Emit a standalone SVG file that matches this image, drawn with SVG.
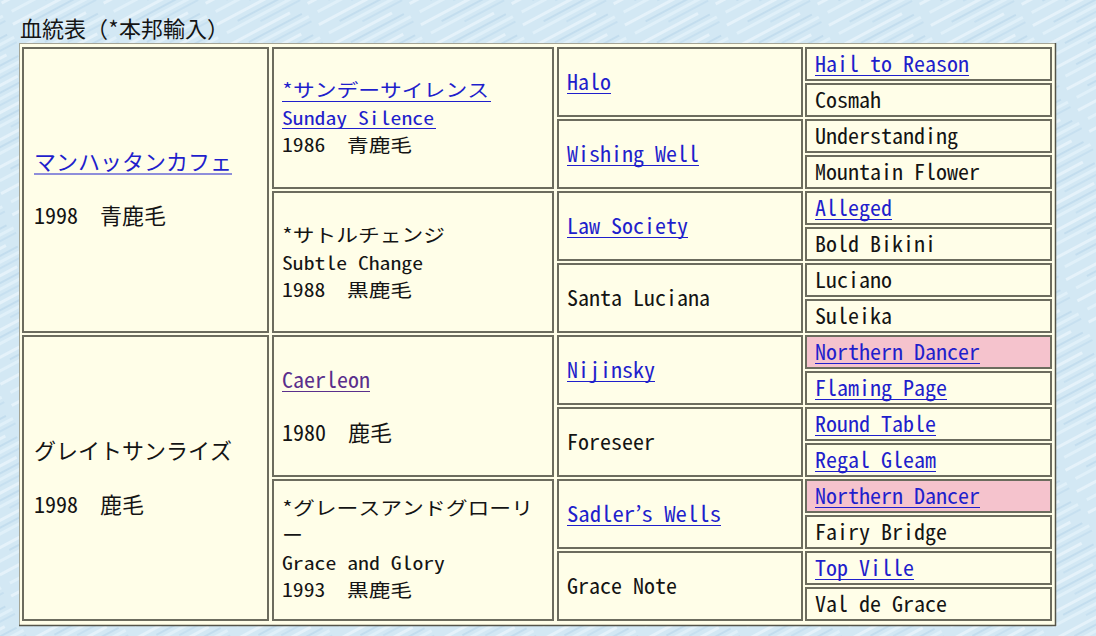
<svg xmlns="http://www.w3.org/2000/svg" width="1096" height="636" viewBox="0 0 1096 636">
<defs>
<pattern id="bgp" width="90" height="24" patternUnits="userSpaceOnUse" patternTransform="rotate(-28)">
<rect width="90" height="24" fill="#d3e8f4"/>
<rect x="0" y="2" width="70" height="3" fill="#eaf5fb" opacity="0.8"/>
<rect x="20" y="9" width="60" height="2" fill="#bcd9ec" opacity="0.7"/>
<rect x="5" y="14" width="80" height="3" fill="#e4f2fa" opacity="0.8"/>
<rect x="40" y="20" width="45" height="2" fill="#c2ddee" opacity="0.7"/>
</pattern>
<style>
.cell{fill:#fffee8;stroke:#6c6c5e;stroke-width:2}
.pink{fill:#f5c3cd}
.cj{font-family:"Noto Sans Mono CJK JP","Noto Sans CJK JP",sans-serif;font-size:22px}
.la{font-family:"Noto Sans Mono CJK JP","DejaVu Sans Mono",monospace;font-size:22px}
.sm{font-family:"Noto Sans Mono CJK JP","Noto Sans CJK JP",sans-serif;font-size:18.5px}
.bk{fill:#141414}
.lk{fill:#1f1fcc}
.vs{fill:#5a2f8c}
.ul{stroke:#1f1fcc;stroke-width:1.2}
.uv{stroke:#5a2f8c;stroke-width:1.2}
</style>
</defs>
<rect width="1096" height="636" fill="url(#bgp)"/>
<g id="title">
<text class="cj bk" x="20" y="37">血統表（*本邦輸入）</text>
</g>
<g id="table">
<rect x="19.5" y="43.5" width="1036" height="582" fill="#fffee8" stroke="#a5a596" stroke-width="1"/>
<line x1="1055.5" y1="43" x2="1055.5" y2="626" stroke="#55554a" stroke-width="1.5"/>
<line x1="19" y1="625.5" x2="1056" y2="625.5" stroke="#55554a" stroke-width="1.5"/>
</g>
<g id="connectors"/>
<!-- Column 1 -->
<g id="n-manhattan-cafe">
<rect class="cell" x="23" y="48" width="245" height="284"/>
<text class="cj lk" x="34" y="170">マンハッタンカフェ</text>
<line class="ul" x1="34" y1="174" x2="232" y2="174"/>
<text class="cj bk" x="34" y="224">1998　青鹿毛</text>
</g>
<g id="n-great-sunrise">
<rect class="cell" x="23" y="336" width="245" height="284"/>
<text class="cj bk" x="34" y="459">グレイトサンライズ</text>
<text class="cj bk" x="34" y="513">1998　鹿毛</text>
</g>
<!-- Column 2 -->
<g id="n-sunday-silence">
<rect class="cell" x="273" y="48" width="280" height="140"/>
<text class="sm lk" x="282" y="97" textLength="207" lengthAdjust="spacingAndGlyphs">*サンデーサイレンス</text>
<line class="ul" x1="282" y1="101.5" x2="491" y2="101.5"/>
<text class="sm lk" x="282" y="125" textLength="152" lengthAdjust="spacingAndGlyphs">Sunday Silence</text>
<line class="ul" x1="282" y1="128.5" x2="436" y2="128.5"/>
<text class="sm bk" x="282" y="152" textLength="130" lengthAdjust="spacingAndGlyphs">1986　青鹿毛</text>
</g>
<g id="n-subtle-change">
<rect class="cell" x="273" y="192" width="280" height="140"/>
<text class="sm bk" x="282" y="242" textLength="163" lengthAdjust="spacingAndGlyphs">*サトルチェンジ</text>
<text class="sm bk" x="282" y="270" textLength="141" lengthAdjust="spacingAndGlyphs">Subtle Change</text>
<text class="sm bk" x="282" y="297" textLength="130" lengthAdjust="spacingAndGlyphs">1988　黒鹿毛</text>
</g>
<g id="n-caerleon">
<rect class="cell" x="273" y="336" width="280" height="140"/>
<text class="la vs" x="282" y="388" textLength="88" lengthAdjust="spacingAndGlyphs">Caerleon</text>
<line class="uv" x1="282" y1="391.5" x2="370" y2="391.5"/>
<text class="cj bk" x="282" y="441">1980　鹿毛</text>
</g>
<g id="n-grace-and-glory">
<rect class="cell" x="273" y="480" width="280" height="140"/>
<text class="sm bk" x="282" y="515" textLength="251" lengthAdjust="spacingAndGlyphs">*グレースアンドグローリ</text>
<text class="sm bk" x="282" y="542" textLength="21" lengthAdjust="spacingAndGlyphs">ー</text>
<text class="sm bk" x="282" y="570" textLength="163" lengthAdjust="spacingAndGlyphs">Grace and Glory</text>
<text class="sm bk" x="282" y="597" textLength="130" lengthAdjust="spacingAndGlyphs">1993　黒鹿毛</text>
</g>
<!-- Column 3 -->
<g id="n-halo">
<rect class="cell" x="558" y="48" width="244" height="68"/>
<text class="la lk" x="567" y="90" textLength="44" lengthAdjust="spacingAndGlyphs">Halo</text>
<line class="ul" x1="567" y1="93.5" x2="611" y2="93.5"/>
</g>
<g id="n-wishing-well">
<rect class="cell" x="558" y="120" width="244" height="68"/>
<text class="la lk" x="567" y="162" textLength="132" lengthAdjust="spacingAndGlyphs">Wishing Well</text>
<line class="ul" x1="567" y1="165.5" x2="699" y2="165.5"/>
</g>
<g id="n-law-society">
<rect class="cell" x="558" y="192" width="244" height="68"/>
<text class="la lk" x="567" y="234" textLength="121" lengthAdjust="spacingAndGlyphs">Law Society</text>
<line class="ul" x1="567" y1="237.5" x2="688" y2="237.5"/>
</g>
<g id="n-santa-luciana">
<rect class="cell" x="558" y="264" width="244" height="68"/>
<text class="la bk" x="567" y="306" textLength="143" lengthAdjust="spacingAndGlyphs">Santa Luciana</text>
</g>
<g id="n-nijinsky">
<rect class="cell" x="558" y="336" width="244" height="68"/>
<text class="la lk" x="567" y="378" textLength="88" lengthAdjust="spacingAndGlyphs">Nijinsky</text>
<line class="ul" x1="567" y1="381.5" x2="655" y2="381.5"/>
</g>
<g id="n-foreseer">
<rect class="cell" x="558" y="408" width="244" height="68"/>
<text class="la bk" x="567" y="450" textLength="88" lengthAdjust="spacingAndGlyphs">Foreseer</text>
</g>
<g id="n-sadlers-wells">
<rect class="cell" x="558" y="480" width="244" height="68"/>
<text class="la lk" x="567" y="522" textLength="154" lengthAdjust="spacingAndGlyphs">Sadler’s Wells</text>
<line class="ul" x1="567" y1="525.5" x2="721" y2="525.5"/>
</g>
<g id="n-grace-note">
<rect class="cell" x="558" y="552" width="244" height="68"/>
<text class="la bk" x="567" y="594" textLength="110" lengthAdjust="spacingAndGlyphs">Grace Note</text>
</g>
<!-- Column 4 -->
<g id="n-hail-to-reason">
<rect class="cell" x="806" y="48" width="245" height="32"/>
<text class="la lk" x="815" y="72" textLength="154" lengthAdjust="spacingAndGlyphs">Hail to Reason</text>
<line class="ul" x1="815" y1="75.5" x2="969" y2="75.5"/>
</g>
<g id="n-cosmah">
<rect class="cell" x="806" y="84" width="245" height="32"/>
<text class="la bk" x="815" y="108" textLength="66" lengthAdjust="spacingAndGlyphs">Cosmah</text>
</g>
<g id="n-understanding">
<rect class="cell" x="806" y="120" width="245" height="32"/>
<text class="la bk" x="815" y="144" textLength="143" lengthAdjust="spacingAndGlyphs">Understanding</text>
</g>
<g id="n-mountain-flower">
<rect class="cell" x="806" y="156" width="245" height="32"/>
<text class="la bk" x="815" y="180" textLength="165" lengthAdjust="spacingAndGlyphs">Mountain Flower</text>
</g>
<g id="n-alleged">
<rect class="cell" x="806" y="192" width="245" height="32"/>
<text class="la lk" x="815" y="216" textLength="77" lengthAdjust="spacingAndGlyphs">Alleged</text>
<line class="ul" x1="815" y1="219.5" x2="892" y2="219.5"/>
</g>
<g id="n-bold-bikini">
<rect class="cell" x="806" y="228" width="245" height="32"/>
<text class="la bk" x="815" y="252" textLength="121" lengthAdjust="spacingAndGlyphs">Bold Bikini</text>
</g>
<g id="n-luciano">
<rect class="cell" x="806" y="264" width="245" height="32"/>
<text class="la bk" x="815" y="288" textLength="77" lengthAdjust="spacingAndGlyphs">Luciano</text>
</g>
<g id="n-suleika">
<rect class="cell" x="806" y="300" width="245" height="32"/>
<text class="la bk" x="815" y="324" textLength="77" lengthAdjust="spacingAndGlyphs">Suleika</text>
</g>
<g id="n-northern-dancer-1">
<rect class="cell pink" x="806" y="336" width="245" height="32"/>
<text class="la lk" x="815" y="360" textLength="165" lengthAdjust="spacingAndGlyphs">Northern Dancer</text>
<line class="ul" x1="815" y1="363.5" x2="980" y2="363.5"/>
</g>
<g id="n-flaming-page">
<rect class="cell" x="806" y="372" width="245" height="32"/>
<text class="la lk" x="815" y="396" textLength="132" lengthAdjust="spacingAndGlyphs">Flaming Page</text>
<line class="ul" x1="815" y1="399.5" x2="947" y2="399.5"/>
</g>
<g id="n-round-table">
<rect class="cell" x="806" y="408" width="245" height="32"/>
<text class="la lk" x="815" y="432" textLength="121" lengthAdjust="spacingAndGlyphs">Round Table</text>
<line class="ul" x1="815" y1="435.5" x2="936" y2="435.5"/>
</g>
<g id="n-regal-gleam">
<rect class="cell" x="806" y="444" width="245" height="32"/>
<text class="la lk" x="815" y="468" textLength="121" lengthAdjust="spacingAndGlyphs">Regal Gleam</text>
<line class="ul" x1="815" y1="471.5" x2="936" y2="471.5"/>
</g>
<g id="n-northern-dancer-2">
<rect class="cell pink" x="806" y="480" width="245" height="32"/>
<text class="la lk" x="815" y="504" textLength="165" lengthAdjust="spacingAndGlyphs">Northern Dancer</text>
<line class="ul" x1="815" y1="507.5" x2="980" y2="507.5"/>
</g>
<g id="n-fairy-bridge">
<rect class="cell" x="806" y="516" width="245" height="32"/>
<text class="la bk" x="815" y="540" textLength="132" lengthAdjust="spacingAndGlyphs">Fairy Bridge</text>
</g>
<g id="n-top-ville">
<rect class="cell" x="806" y="552" width="245" height="32"/>
<text class="la lk" x="815" y="576" textLength="99" lengthAdjust="spacingAndGlyphs">Top Ville</text>
<line class="ul" x1="815" y1="579.5" x2="914" y2="579.5"/>
</g>
<g id="n-val-de-grace">
<rect class="cell" x="806" y="588" width="245" height="32"/>
<text class="la bk" x="815" y="612" textLength="132" lengthAdjust="spacingAndGlyphs">Val de Grace</text>
</g>
</svg>
